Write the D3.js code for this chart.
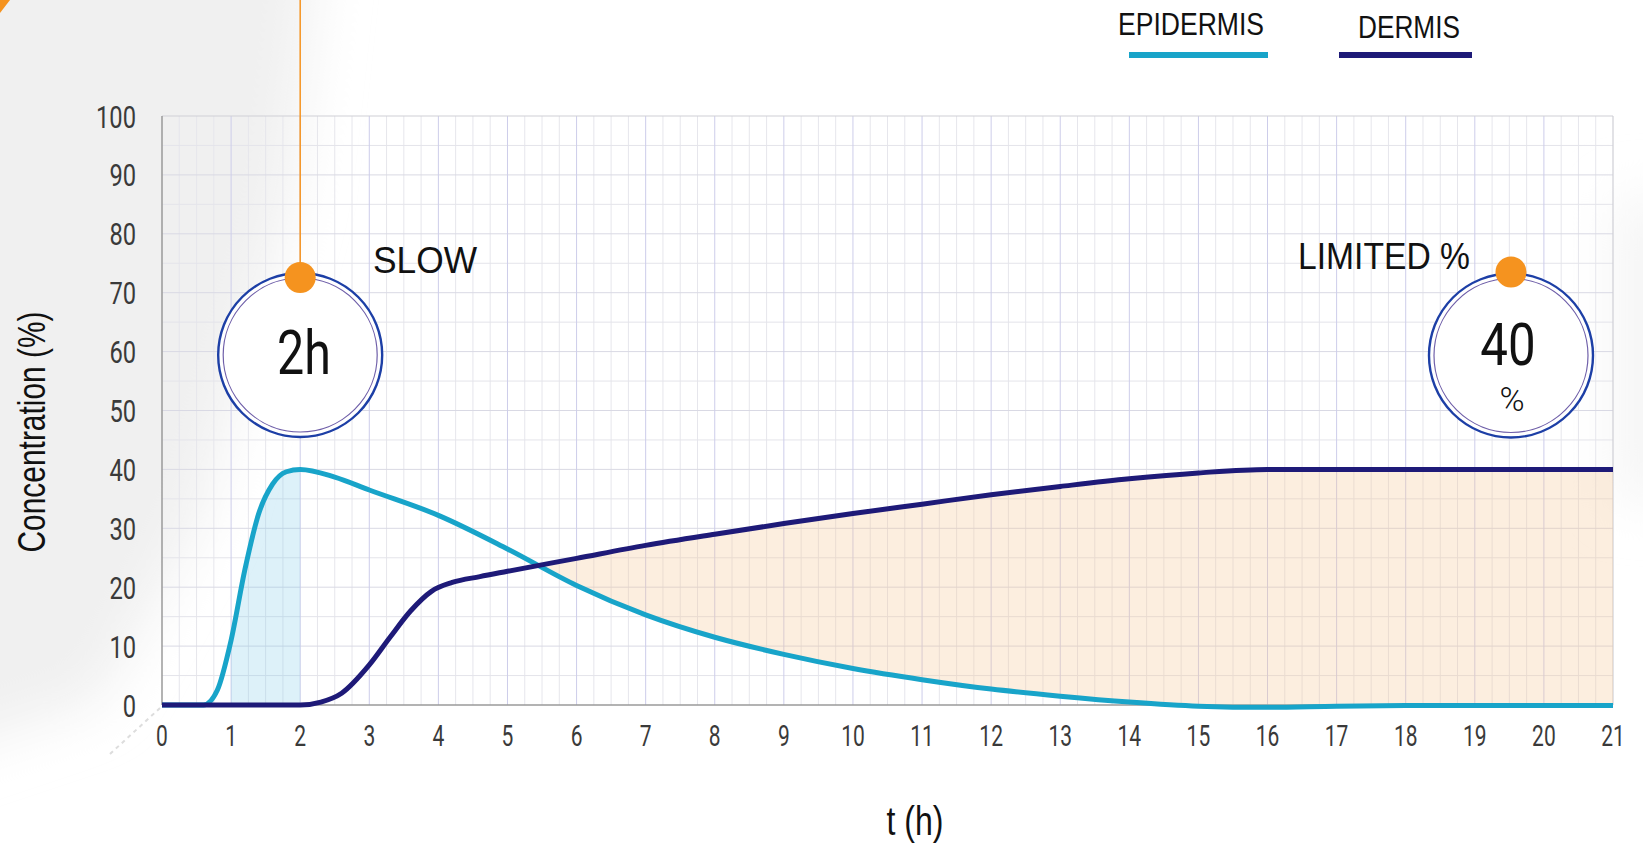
<!DOCTYPE html>
<html><head><meta charset="utf-8">
<script src="https://cdn.jsdelivr.net/npm/d3@7/dist/d3.min.js"></script>
<style>html,body{margin:0;padding:0;background:#fff;} svg{display:block;}</style>
</head><body>
<svg id="chart" width="1643" height="846"></svg>
<script>
// ---- data ----
const epidermisT = [0, 0.6, 0.8, 1.0, 1.2, 1.4, 1.6, 1.8, 2.0, 2.5, 3, 4, 5, 6, 7, 8, 9, 10, 11, 12, 13, 14, 15, 16, 17, 18, 19, 20, 21];
const epidermisV = [0, 0, 2.5, 11, 23, 32.5, 37.5, 39.6, 40, 38.7, 36.5, 32.2, 26.5, 20.3, 15.3, 11.5, 8.6, 6.2, 4.3, 2.7, 1.5, 0.5, -0.2, -0.4, -0.2, -0.1, -0.1, -0.1, -0.1];
const dermisT = [0, 2, 2.3, 2.6, 3.0, 3.3, 3.6, 3.9, 4.2, 4.6, 5, 6, 7, 8, 9, 10, 11, 12, 13, 14, 15, 16, 17, 18, 19, 20, 21];
const dermisV = [0, 0, 0.5, 2.0, 6.8, 11.5, 16, 19.3, 20.8, 21.8, 22.7, 24.9, 27.1, 29, 30.8, 32.5, 34.1, 35.7, 37.1, 38.4, 39.4, 40, 40, 40, 40, 40, 40];
const xTickLabels = [0,1,2,3,4,5,6,7,8,9,10,11,12,13,14,15,16,17,18,19,20,21];
const yTickLabels = [0,10,20,30,40,50,60,70,80,90,100];
const legendLabels = ["EPIDERMIS", "DERMIS"];
const markerTime = 2;       // "2h"
const markerLimit = 40;     // "40 %"

// ---- setup ----
const svg = d3.select("#chart");
const x = d3.scaleLinear().domain([0, 21]).range([162, 1613]);
const y = d3.scaleLinear().domain([0, 100]).range([705, 116]);
const cEpi = "#18a4c9", cDer = "#1e1a78", cOr = "#f5931f";

const defs = svg.append("defs");
const blur = defs.append("filter").attr("id", "blur").attr("x", "-50%").attr("y", "-50%").attr("width", "200%").attr("height", "200%");
blur.append("feGaussianBlur").attr("stdDeviation", 28);

// background decoration
svg.append("path")
  .attr("d", "M-80,-80 L320,-80 L290,200 L200,520 L100,700 L-80,760 Z")
  .attr("fill", "#f0f0f0").attr("filter", "url(#blur)");
svg.append("path").attr("d", "M1615,200 L1700,200 L1700,500 L1615,500 Z")
  .attr("fill", "#f5f5f5").attr("filter", "url(#blur)");
svg.append("path").attr("d", "M0,0 L10,0 L0,13 Z").attr("fill", cOr);
svg.append("line").attr("x1", 110).attr("y1", 754).attr("x2", 160).attr("y2", 708)
  .attr("stroke", "#dddddd").attr("stroke-width", 2).attr("stroke-dasharray", "4,4");

// ---- grid ----
const g = svg.append("g");
const minorX = d3.range(0, 21.001, 0.25).filter(v => Math.abs(v - Math.round(v)) > 0.01);
g.selectAll(".vminor").data(minorX).enter().append("line")
  .attr("x1", d => x(d)).attr("x2", d => x(d)).attr("y1", y(100)).attr("y2", y(0))
  .attr("stroke", "#e6e6ec").attr("stroke-width", 1);
g.selectAll(".hminor").data(d3.range(5, 100, 10)).enter().append("line")
  .attr("x1", x(0)).attr("x2", x(21)).attr("y1", d => y(d)).attr("y2", d => y(d))
  .attr("stroke", "#e4e4ea").attr("stroke-width", 1);
g.selectAll(".hmajor").data(yTickLabels.filter(d => d > 0 && d < 100)).enter().append("line")
  .attr("x1", x(0)).attr("x2", x(21)).attr("y1", d => y(d)).attr("y2", d => y(d))
  .attr("stroke", "#d9d9e4").attr("stroke-width", 1);
g.selectAll(".vmajor").data(xTickLabels.filter(d => d > 0 && d < 21)).enter().append("line")
  .attr("x1", d => x(d)).attr("x2", d => x(d)).attr("y1", y(100)).attr("y2", y(0))
  .attr("stroke", "#cdcdea").attr("stroke-width", 1);
// frame
g.append("line").attr("x1", x(0)).attr("x2", x(21)).attr("y1", y(100)).attr("y2", y(100)).attr("stroke", "#cfcfd6").attr("stroke-width", 1.2);
g.append("line").attr("x1", x(21)).attr("x2", x(21)).attr("y1", y(100)).attr("y2", y(0)).attr("stroke", "#cfcfd6").attr("stroke-width", 1.2);
g.append("line").attr("x1", x(0)).attr("x2", x(21)).attr("y1", y(0)).attr("y2", y(0)).attr("stroke", "#9a9a9a").attr("stroke-width", 1.5);
g.append("line").attr("x1", x(0)).attr("x2", x(0)).attr("y1", y(100)).attr("y2", y(0)).attr("stroke", "#9a9a9a").attr("stroke-width", 1.5);

// ---- fills ----
const epi = epidermisT.map((t, i) => [t, epidermisV[i]]);
const der = dermisT.map((t, i) => [t, dermisV[i]]);
const curve = d3.curveMonotoneX;

defs.append("clipPath").attr("id", "aboveEpi").append("path")
  .attr("d", d3.area().x(d => x(d[0])).y0(y(100) - 20).y1(d => y(d[1])).curve(curve)(epi));
defs.append("clipPath").attr("id", "band12").append("rect")
  .attr("x", x(1)).attr("width", x(markerTime) - x(1)).attr("y", y(100)).attr("height", y(0) - y(100));

svg.append("path")
  .attr("d", d3.area().x(d => x(d[0])).y0(y(0)).y1(d => y(d[1])).curve(curve)(der))
  .attr("fill", "rgb(245,200,150)").attr("fill-opacity", 0.3)
  .attr("clip-path", "url(#aboveEpi)");
svg.append("path")
  .attr("d", d3.area().x(d => x(d[0])).y0(y(0)).y1(d => y(d[1])).curve(curve)(epi))
  .attr("fill", "rgb(120,200,230)").attr("fill-opacity", 0.25)
  .attr("clip-path", "url(#band12)");

// ---- lines ----
const line = d3.line().x(d => x(d[0])).y(d => y(d[1])).curve(curve);
svg.append("path").attr("d", line(epi)).attr("fill", "none").attr("stroke", cEpi).attr("stroke-width", 5);
svg.append("path").attr("d", line(der)).attr("fill", "none").attr("stroke", cDer).attr("stroke-width", 5);

// ---- axes labels ----
function squash(sel, f) {
  sel.each(function () {
    const n = this.getComputedTextLength();
    d3.select(this).attr("textLength", n * f).attr("lengthAdjust", "spacingAndGlyphs");
  });
}
const yl = svg.append("g").selectAll("text").data(yTickLabels).enter().append("text")
  .attr("x", 136).attr("y", d => y(d) + 11.5).attr("text-anchor", "end")
  .attr("font-family", "Roboto").attr("font-weight", 400).attr("font-size", 32).attr("fill", "#3a3a3a")
  .text(d => d);
squash(yl, 0.74);
const xl = svg.append("g").selectAll("text").data(xTickLabels).enter().append("text")
  .attr("x", d => x(d)).attr("y", 746).attr("text-anchor", "middle")
  .attr("font-family", "Roboto").attr("font-weight", 400).attr("font-size", 30).attr("fill", "#3a3a3a")
  .text(d => d);
squash(xl, 0.7);

svg.append("text").attr("transform", "translate(45,432) rotate(-90)").attr("text-anchor", "middle")
  .attr("font-family", "Liberation Sans").attr("font-size", 38).attr("fill", "#111")
  .attr("textLength", 241).attr("lengthAdjust", "spacingAndGlyphs").text("Concentration (%)");
svg.append("text").attr("x", 915).attr("y", 835).attr("text-anchor", "middle")
  .attr("font-family", "Liberation Sans").attr("font-size", 40).attr("fill", "#111")
  .attr("textLength", 57).attr("lengthAdjust", "spacingAndGlyphs").text("t (h)");

// ---- legend ----
const legX = [1118, 1358], legLine = [[1129, 1268], [1339, 1472]], legLen = [146, 102], legBase = [35, 38];
const legColors = [cEpi, cDer];
legendLabels.forEach((lab, i) => {
  svg.append("text").attr("x", legX[i]).attr("y", legBase[i])
    .attr("font-family", "Liberation Sans").attr("font-size", 31).attr("fill", "#111")
    .attr("textLength", legLen[i]).attr("lengthAdjust", "spacingAndGlyphs").text(lab);
  svg.append("line").attr("x1", legLine[i][0]).attr("x2", legLine[i][1]).attr("y1", 55).attr("y2", 55)
    .attr("stroke", legColors[i]).attr("stroke-width", 6);
});

// ---- annotations ----
svg.append("line").attr("x1", x(markerTime)).attr("x2", x(markerTime)).attr("y1", 0).attr("y2", 277)
  .attr("stroke", cOr).attr("stroke-width", 1.5);

function badge(cx, cy, dotY) {
  svg.append("circle").attr("cx", cx).attr("cy", cy).attr("r", 82).attr("fill", "#fff")
    .attr("stroke", "#1d3fa6").attr("stroke-width", 2.4);
  svg.append("circle").attr("cx", cx).attr("cy", cy).attr("r", 77).attr("fill", "none")
    .attr("stroke", "#6f5fa9").attr("stroke-width", 1.2);
  svg.append("circle").attr("cx", cx).attr("cy", dotY).attr("r", 15.5).attr("fill", cOr);
}
badge(x(markerTime), 355, 277.5);
badge(1511, 355.5, 272);

const t2 = svg.append("text").attr("x", 304).attr("y", 374).attr("text-anchor", "middle")
  .attr("font-family", "Roboto").attr("font-weight", 400).attr("font-size", 62).attr("fill", "#111")
  .text(markerTime + "h");
squash(t2, 0.78);

const t40 = svg.append("text").attr("x", 1508).attr("y", 364.5).attr("text-anchor", "middle")
  .attr("font-family", "Roboto").attr("font-weight", 400).attr("font-size", 60).attr("fill", "#111")
  .text(markerLimit);
squash(t40, 0.82);
svg.append("text").attr("x", 1512).attr("y", 411).attr("text-anchor", "middle")
  .attr("font-family", "Roboto").attr("font-weight", 300).attr("font-size", 34).attr("fill", "#111")
  .text("%");

svg.append("text").attr("x", 373).attr("y", 273)
  .attr("font-family", "Liberation Sans").attr("font-size", 36).attr("fill", "#111")
  .attr("textLength", 104).attr("lengthAdjust", "spacingAndGlyphs").text("SLOW");
svg.append("text").attr("x", 1298).attr("y", 268.5)
  .attr("font-family", "Liberation Sans").attr("font-size", 37).attr("fill", "#111")
  .attr("textLength", 172).attr("lengthAdjust", "spacingAndGlyphs").text("LIMITED %");
</script>
</body></html>
